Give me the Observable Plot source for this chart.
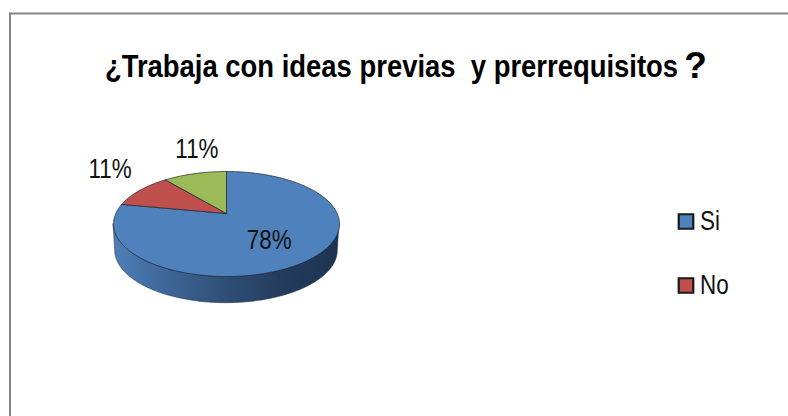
<!DOCTYPE html>
<html>
<head>
<meta charset="utf-8">
<script src="https://cdn.jsdelivr.net/npm/d3@7"></script>
<script src="https://cdn.jsdelivr.net/npm/@observablehq/plot@0.6"></script>
<style>html,body{margin:0;padding:0;background:#fff}svg{display:block}</style>
</head>
<body>
<div id="chart"></div>
<script>
const titleText = "¿Trabaja con ideas previas  y prerrequisitos";
const titleMark = "?";
const sliceNames = ["Si", "No", "Otro"];
const sliceValues = [78, 11, 11];
const sliceLabels = ["78%", "11%", "11%"];
const sliceColors = ["#4f81bd", "#c0504d", "#9bbb59"];
const legendNames = ["Si", "No"];

const W = 788, H = 416;
const marginLeft = 9.5, marginTop = 13;
const cx = 226, cy = 213, A = 110.7, B = 50.4, k = 0.2, depth = 0.53;
const font = "'Liberation Sans',sans-serif";
const labelOffsets = [[-40.7, -19], [-30, -20.7], [2, -24.4]];

// perspective view of the unit disc
const proj = (deg, r = 1) => {
  const t = deg * Math.PI / 180, u = r * Math.sin(t), v = -r * Math.cos(t), w = 1 - k * v;
  return {X: u / w, Y: v / w};
};
const px = (x) => (x - cx) / A, py = (y) => (y - cy) / B;

const total = d3.sum(sliceValues);
let acc = 0;
const arcs = sliceValues.map((v, i) => {
  const a0 = acc / total * 360; acc += v; const a1 = acc / total * 360;
  return {name: sliceNames[i], label: sliceLabels[i], a0, a1, mid: (a0 + a1) / 2, off: labelOffsets[i]};
});
const topPoints = arcs.flatMap((s) => {
  const pts = [{name: s.name, ...proj(0, 0)}];
  const n = Math.ceil(s.a1 - s.a0);
  for (let j = 0; j <= n; ++j) pts.push({name: s.name, ...proj(s.a0 + (s.a1 - s.a0) * j / n)});
  pts.push({name: s.name, ...proj(0, 0)});
  return pts;
});
const limit = Math.acos(-k) * 180 / Math.PI;
const wall = d3.range(limit, 360 - limit + 0.5, 1).map((d) => {
  const p = proj(d);
  return {x1: p.X, y1: p.Y, x2: p.X * 0.985, y2: p.Y + depth};
});
const labels = arcs.map((s) => ({...s, ...proj(s.mid)}));
const legend = legendNames.map((name, i) => ({name, i}));
const legendX = px(685.5), textX = px(699.5);
const legendY = [py(221), py(285)];

const gradient = () => {
  const defs = d3.create("svg:defs");
  const g = defs.append("linearGradient").attr("id", "wallGrad");
  [[0, "#4f7fb8"], [0.25, "#3d6595"], [0.5, "#2f4e75"], [0.75, "#233c5c"], [1, "#1d3350"]]
    .forEach(([o, c]) => g.append("stop").attr("offset", o).attr("stop-color", c));
  return defs.node();
};

// condense the text horizontally, keeping its anchor point
const squeeze = (sx, offset) => (index, scales, values, dims, ctx, next) => {
  const g = next(index, scales, values, dims, ctx);
  d3.select(g).selectAll("text").each(function (i) {
    const [ox, oy] = offset ? offset(i) : [0, 0];
    this.setAttribute("transform",
      `translate(${values.x[i] + ox},${values.y[i] + oy}) scale(${sx},1)`);
  });
  return g;
};

const chart = Plot.plot({
  width: W, height: H, marginLeft, marginTop, marginRight: 0, marginBottom: 0,
  x: {domain: [px(marginLeft), px(W)], range: [marginLeft, W], axis: null},
  y: {domain: [py(marginTop), py(H)], range: [marginTop, H], axis: null},
  color: {domain: sliceNames, range: sliceColors},
  marks: [
    gradient,
    Plot.frame({anchor: "left", stroke: "#868686", strokeWidth: 2}),
    Plot.frame({anchor: "top", stroke: "#868686", strokeWidth: 2}),
    Plot.area(wall, {x1: "x1", y1: "y1", x2: "x2", y2: "y2", fill: "url(#wallGrad)", stroke: "#1d2b3d", strokeWidth: 0.5, curve: "linear"}),
    Plot.line(topPoints, {x: "X", y: "Y", z: "name", fill: "name", stroke: "#1a2430", strokeWidth: 0.7, curve: "linear", strokeLinejoin: "round"}),
    Plot.text(labels, {x: "X", y: "Y", text: "label", fontFamily: font, fontSize: 27, fill: "#111",
      render: squeeze(0.83, (i) => labels[i].off)}),
    Plot.dot(legend, {x: () => legendX, y: (d) => legendY[d.i], fill: "name", symbol: "square", r: 8.2, stroke: "#1a1a1a", strokeWidth: 2.2}),
    Plot.text(legend, {x: () => textX, y: (d) => legendY[d.i], text: "name", textAnchor: "start", fontFamily: font, fontSize: 27, fill: "#111",
      render: squeeze(0.83)}),
    Plot.text([titleText], {x: () => px(391), y: () => py(66.5), text: (d) => d, fontFamily: font, fontSize: 31, fontWeight: "bold", fill: "#000",
      render: squeeze(0.885)}),
    Plot.text([titleMark], {x: () => px(695), y: () => py(65.5), text: (d) => d, fontFamily: font, fontSize: 37, fontWeight: "bold", fill: "#000"})
  ]
});
document.getElementById("chart").appendChild(chart);
</script>
</body>
</html>
